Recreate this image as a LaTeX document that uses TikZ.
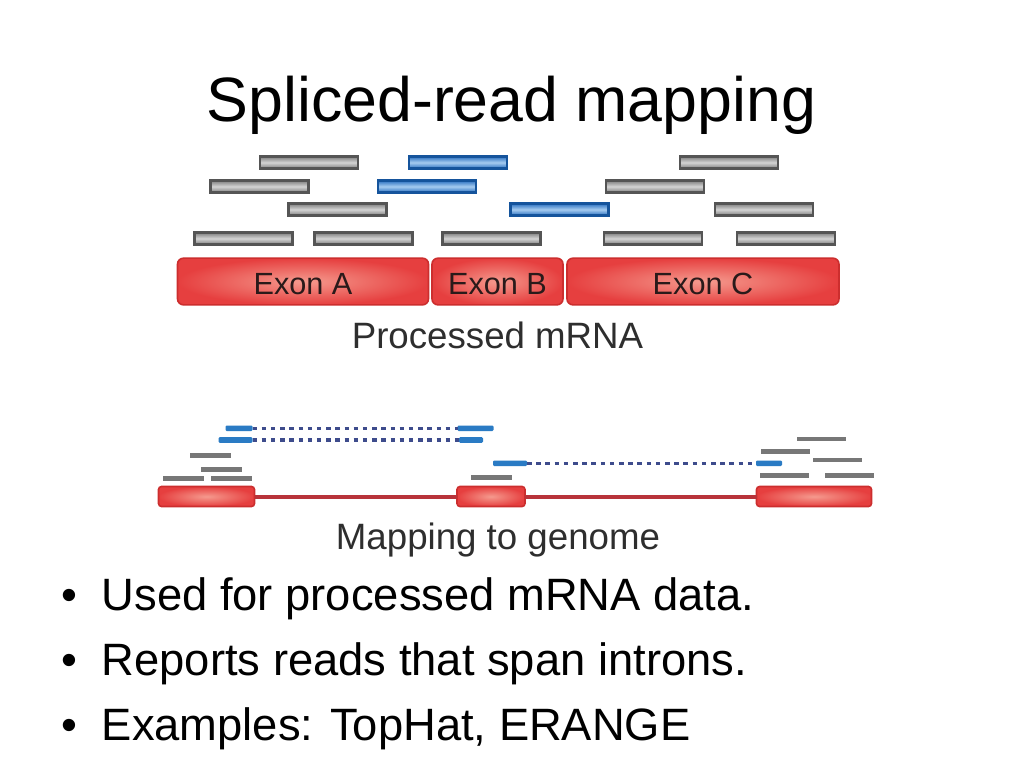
\documentclass[tikz,border=0pt]{standalone}
\usepackage{fontspec}
\setmainfont{Liberation Sans}
\begin{document}
\begin{tikzpicture}[x=0.75pt,y=-0.75pt,
  greyread/.style={draw=rdgrayb,line width=2.1pt,top color=rdgraye,bottom color=rdgraye,middle color=rdgraym,minimum width=73.5pt,minimum height=8.9pt,inner sep=0pt,outer sep=0pt},
  blueread/.style={draw=rdblueb,line width=2.1pt,top color=rdbluee,bottom color=rdbluee,middle color=rdbluem,minimum width=73.5pt,minimum height=8.9pt,inner sep=0pt,outer sep=0pt},
  exonbox/.style={draw=exb,line width=1.2pt,rounded corners=4.5pt,inner color=exin,outer color=exout,minimum height=35pt,inner sep=0pt,outer sep=0pt,font=\fontsize{23pt}{23pt}\selectfont,text=exlab,text height=19pt,text depth=0pt},
  gexon/.style={draw=exb,line width=1.2pt,rounded corners=2.25pt,inner color=exin,outer color=exout,minimum height=15pt,inner sep=0pt,outer sep=0pt},
  sread/.style={fill=sgray,minimum height=3.6pt,inner sep=0pt,outer sep=0pt},
  bread/.style={fill=sblue,rounded corners=0.9pt,minimum height=4.2pt,inner sep=0pt,outer sep=0pt},
  gapline/.style={draw=dashc,line width=2.6pt,dash pattern=on 3.4pt off 3.5pt},
  intron/.style={draw=intc,line width=3pt},
  caption/.style={font=\fontsize{27.5pt}{27.5pt}\selectfont,text=capc,anchor=base,inner sep=0pt},
  bullet/.style={font=\fontsize{34pt}{34pt}\selectfont,anchor=base west,inner sep=0pt}
]
\definecolor{rdgrayb}{HTML}{555555}
\definecolor{rdgraye}{HTML}{7E7E7E}
\definecolor{rdgraym}{HTML}{D4D4D4}
\definecolor{rdblueb}{HTML}{15549C}
\definecolor{rdbluee}{HTML}{2A70C0}
\definecolor{rdbluem}{HTML}{A6CCF0}
\definecolor{exb}{HTML}{CC2E2E}
\definecolor{exin}{HTML}{F59A8E}
\definecolor{exout}{HTML}{E63F3F}
\definecolor{exlab}{HTML}{2A1A1A}
\definecolor{sgray}{HTML}{777777}
\definecolor{sblue}{HTML}{2A7BC4}
\definecolor{dashc}{HTML}{3E4C8C}
\definecolor{intc}{HTML}{B8333A}
\definecolor{capc}{HTML}{2E2E2E}

\useasboundingbox[fill=white] (0,0) rectangle (1024,768);

% title
\node[font=\fontsize{47pt}{47pt}\selectfont,anchor=base,inner sep=0pt] (title) at (511.5,121) {Spliced-read mapping};

% top reads
\node[greyread] (r11) at (309,162.5) {};
\node[blueread] (r12) at (458,162.5) {};
\node[greyread] (r13) at (729,162.5) {};
\node[greyread] (r21) at (259.5,186.5) {};
\node[blueread] (r22) at (427,186.5) {};
\node[greyread] (r23) at (655,186.5) {};
\node[greyread] (r31) at (337.5,209.5) {};
\node[blueread] (r32) at (559.5,209.5) {};
\node[greyread] (r33) at (764,209.5) {};
\node[greyread] (r41) at (243.5,238.5) {};
\node[greyread] (r42) at (363.5,238.5) {};
\node[greyread] (r43) at (491.5,238.5) {};
\node[greyread] (r44) at (653,238.5) {};
\node[greyread] (r45) at (786,238.5) {};

% exons
\node[exonbox,minimum width=188.25pt] (exA) at (303,281.5) {Exon A};
\node[exonbox,minimum width=98.25pt] (exB) at (497.5,281.5) {Exon B};
\node[exonbox,minimum width=204pt] (exC) at (703,281.5) {Exon C};
\node[caption] (proc) at (497.5,348) {Processed mRNA};

% genome
\node[gexon,minimum width=72pt] (g1) at (206.5,496.5) {};
\node[gexon,minimum width=51pt] (g2) at (491,496.5) {};
\node[gexon,minimum width=86.25pt] (g3) at (814,496.5) {};
\draw[intron] (g1.east) -- (g2.west);
\draw[intron] (g2.east) -- (g3.west);

% short grey reads
\node[sread,minimum width=30.75pt] (s1) at (210,455.7) {};
\node[sread,minimum width=30.75pt] (s2) at (221.5,469.3) {};
\node[sread,minimum width=30.75pt] (s3) at (183,478.3) {};
\node[sread,minimum width=30.75pt] (s4) at (231.5,478.3) {};
\node[sread,minimum width=30.75pt] (s5) at (491.5,477.7) {};
\node[sread,minimum width=36.75pt] (s6) at (821.5,439) {};
\node[sread,minimum width=36.75pt] (s7) at (785,451.7) {};
\node[sread,minimum width=36.75pt] (s8) at (837.5,460) {};
\node[sread,minimum width=36.75pt] (s9) at (784.5,475.3) {};
\node[sread,minimum width=36.75pt] (s10) at (849,475.3) {};

% spliced blue reads
\node[bread,minimum width=20.25pt] (b1a) at (239,428.3) {};
\node[bread,minimum width=27pt] (b1b) at (475.5,428.3) {};
\node[bread,minimum width=25.5pt] (b2a) at (235.5,440) {};
\node[bread,minimum width=18pt] (b2b) at (471,440) {};
\node[bread,minimum width=25.5pt] (b3a) at (510,463.3) {};
\node[bread,minimum width=19.5pt] (b3b) at (769,463.3) {};
\draw[gapline] (b1a.east) -- (b1b.west);
\draw[gapline] (b2a.east) -- (b2b.west);
\draw[gapline] (b3a.east) -- (b3b.west);

\node[caption] (map) at (498,549) {Mapping to genome};

% bullets
\node[bullet] (l1) at (61,610) {•\hspace{18.5pt}Used for processed mRNA data.};
\node[bullet] (l2) at (61,675) {•\hspace{18.5pt}Reports reads that span introns.};
\node[bullet] (l3) at (61,740) {•\hspace{18.5pt}Examples: TopHat, ERANGE};
\end{tikzpicture}
\end{document}
